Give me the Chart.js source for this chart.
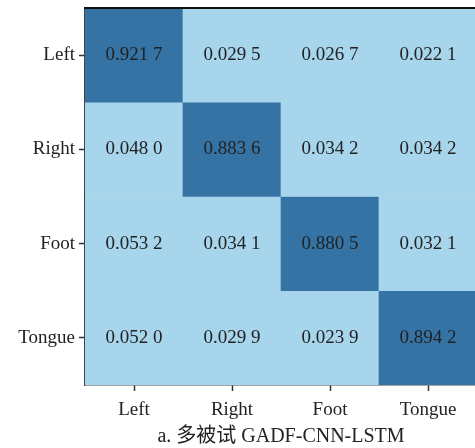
<!DOCTYPE html>
<html>
<head>
<meta charset="utf-8">
<script src="https://cdn.jsdelivr.net/npm/chart.js@4.4.0/dist/chart.umd.min.js"></script>
<style>
  html, body { margin: 0; padding: 0; background: #fff; overflow: hidden; }
  #wrap { width: 480px; height: 448px; }
</style>
</head>
<body>
<div id="wrap"><canvas id="cm" width="480" height="448"></canvas></div>
<script>
// confusion matrix, rows = true class, cols = predicted
const classes = ['Left', 'Right', 'Foot', 'Tongue'];
const rowLeft = [0.9217, 0.0295, 0.0267, 0.0221];
const rowRight = [0.0480, 0.8836, 0.0342, 0.0342];
const rowFoot = [0.0532, 0.0341, 0.8805, 0.0321];
const rowTongue = [0.0520, 0.0299, 0.0239, 0.8942];
const matrix = [rowLeft, rowRight, rowFoot, rowTongue];
const caption = 'a. 多被试 GADF-CNN-LSTM';

const DARK = '#3573a4';
const LIGHT = '#a6d5ec';
const FONT = "'Liberation Serif', 'Times New Roman', serif";

// 0.921 7 style formatting
function fmt(v) {
  const s = v.toFixed(4);
  return s.slice(0, 5) + ' ' + s.slice(5);
}

const datasets = matrix.map((row, r) => ({
  label: classes[r],
  data: row.map(() => [r, r + 1]),
  backgroundColor: row.map(v => v > 0.5 ? DARK : LIGHT),
  borderWidth: 0,
  grouped: false,
  barPercentage: 1,
  categoryPercentage: 1,
}));

const cellText = {
  id: 'cellText',
  afterDatasetsDraw(chart) {
    const ctx = chart.ctx;
    const x = chart.scales.x, y = chart.scales.y;
    ctx.save();
    ctx.font = '19px ' + FONT;
    ctx.fillStyle = '#222';
    ctx.textAlign = 'center';
    ctx.textBaseline = 'middle';
    matrix.forEach((row, r) => {
      row.forEach((v, c) => {
        ctx.fillText(fmt(v), x.getPixelForValue(c), y.getPixelForValue(r + 0.5));
      });
    });
    // top frame line
    const a = chart.chartArea;
    ctx.strokeStyle = '#111';
    ctx.lineWidth = 2;
    ctx.beginPath();
    ctx.moveTo(a.left - 1, a.top);
    ctx.lineTo(a.right + 2, a.top);
    ctx.stroke();
    // caption
    ctx.font = '20px ' + FONT + ", 'Noto Sans CJK SC'";
    ctx.fillText(caption, (a.left + a.right) / 2, 437);
    ctx.restore();
  }
};

new Chart(document.getElementById('cm'), {
  type: 'bar',
  data: { labels: classes, datasets },
  options: {
    responsive: false,
    animation: false,
    layout: { padding: { top: 8, right: 3, bottom: 25, left: 0 } },
    plugins: { legend: { display: false }, tooltip: { enabled: false }, title: { display: false } },
    scales: {
      x: {
        type: 'category',
        afterFit(s) { s.height = 38; s.paddingLeft = 0; s.paddingRight = 0; },
        grid: { display: true, offset: false, drawOnChartArea: false, tickLength: 6, color: '#333', tickWidth: 1.5 },
        border: { display: true, color: '#444', width: 1.5 },
        ticks: { color: '#222', font: { family: FONT, size: 19 }, padding: 8 }
      },
      y: {
        type: 'linear',
        min: 0,
        max: 4,
        reverse: true,
        afterFit(s) { s.width = 85; s.paddingTop = 0; s.paddingBottom = 0; },
        afterBuildTicks(s) { s.ticks = [0.5, 1.5, 2.5, 3.5].map(v => ({ value: v })); },
        grid: { display: true, drawOnChartArea: false, tickLength: 6, color: '#333', tickWidth: 1.5 },
        border: { display: true, color: '#444', width: 1.5 },
        ticks: {
          color: '#222',
          font: { family: FONT, size: 19 },
          padding: 4,
          callback: v => classes[Math.floor(v)]
        }
      }
    }
  },
  plugins: [cellText]
});
</script>
</body>
</html>
